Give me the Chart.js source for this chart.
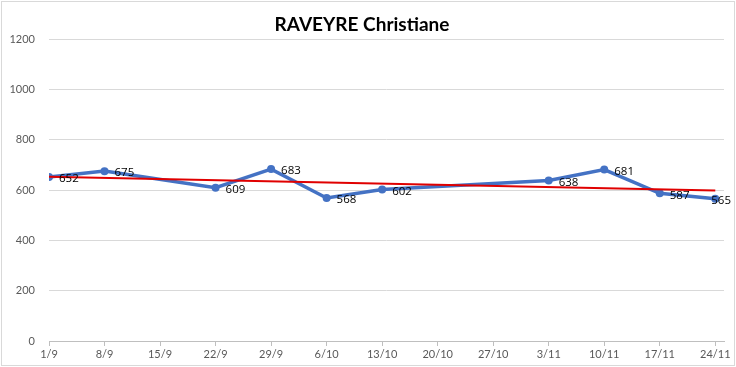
<!DOCTYPE html>
<html lang="fr">
<head>
    <meta charset="UTF-8">
    <title>RAVEYRE Christiane</title>
    <style>
        body { margin: 0; background: #fff; }
        .wrap { width: 736px; height: 367px; }
    </style>
</head>
<body>
    <div class="wrap">
        <canvas id="myChart" width="736" height="367"></canvas>
    </div>

    <script src="https://cdn.jsdelivr.net/npm/chart.js"></script>

    <script>
        // days counted from 1/9
        const tickDays = [0, 7, 14, 21, 28, 35, 42, 49, 56, 63, 70, 77, 84];
        const tickLabels = ['1/9', '8/9', '15/9', '22/9', '29/9', '6/10', '13/10', '20/10', '27/10', '3/11', '10/11', '17/11', '24/11'];

        const pointDays = [0, 7, 21, 28, 35, 42, 63, 70, 77, 84];
        const votes = [652, 675, 609, 683, 568, 602, 638, 681, 587, 565];

        // linear trend at both ends
        const trendDays = [0, 84];
        const trendValues = [653, 598];

        const ctx = document.getElementById('myChart');

        const frame = {
            id: 'frame',
            afterDraw(chart) {
                const c = chart.ctx;
                c.save();
                c.strokeStyle = '#d9d9d9';
                c.lineWidth = 1;
                c.strokeRect(1.5, 1.5, 733, 364);
                c.restore();
            }
        };

        const pointLabels = {
            id: 'pointLabels',
            afterDatasetsDraw(chart) {
                const c = chart.ctx;
                const meta = chart.getDatasetMeta(1);
                c.save();
                c.font = '11.5px "Open Sans"';
                c.fillStyle = '#000';
                c.textAlign = 'left';
                c.textBaseline = 'middle';
                meta.data.forEach((p, i) => {
                    const txt = String(votes[i]);
                    const w = c.measureText(txt).width;
                    // keep the label inside the chart, like Excel does
                    const x = Math.min(p.x + 10, 731 - w);
                    c.fillText(txt, x, p.y + 2);
                });
                c.restore();
            }
        };

        let chart = new Chart(ctx, {
            type: 'scatter',
            data: {
                datasets: [{
                    label: 'Tendance',
                    data: trendDays.map((d, i) => ({ x: d, y: trendValues[i] })),
                    showLine: true,
                    borderColor: '#e00000',
                    borderWidth: 2,
                    pointRadius: 0,
                    order: 0
                }, {
                    label: 'RAVEYRE Christiane',
                    data: pointDays.map((d, i) => ({ x: d, y: votes[i] })),
                    showLine: true,
                    borderColor: '#4472c4',
                    backgroundColor: '#4472c4',
                    borderWidth: 3.5,
                    pointRadius: 4,
                    pointBorderWidth: 0,
                    order: 1
                }]
            },
            options: {
                responsive: false,
                animation: false,
                layout: { padding: { left: 0, right: 12, top: 0, bottom: 0 } },
                plugins: {
                    legend: { display: false },
                    tooltip: { enabled: false },
                    title: {
                        display: true,
                        text: 'RAVEYRE Christiane',
                        color: '#000',
                        font: { family: 'Lato', size: 19, weight: 'bold', lineHeight: 1.2 },
                        padding: { top: 13, bottom: 3.2 }
                    }
                },
                scales: {
                    x: {
                        type: 'linear',
                        min: 0,
                        max: 85.1,
                        afterFit(s) { s.height = 26; },
                        afterBuildTicks(s) { s.ticks = tickDays.map(v => ({ value: v })); },
                        ticks: {
                            autoSkip: false,
                            maxRotation: 0,
                            padding: 2,
                            color: '#595959',
                            font: { family: 'Lato', size: 11 },
                            callback: (v) => tickLabels[tickDays.indexOf(v)]
                        },
                        grid: {
                            drawOnChartArea: false,
                            drawTicks: true,
                            tickLength: 5,
                            color: '#bfbfbf'
                        },
                        border: { display: true, color: '#bfbfbf' }
                    },
                    y: {
                        min: 0,
                        max: 1200,
                        afterFit(s) { s.width = 49; },
                        ticks: {
                            stepSize: 200,
                            padding: 14,
                            color: '#595959',
                            font: { family: 'Lato', size: 11 },
                            callback: (v) => String(v)
                        },
                        grid: { color: '#d9d9d9', drawTicks: false },
                        border: { display: false }
                    }
                }
            },
            plugins: [frame, pointLabels]
        });
    </script>
</body>
</html>
